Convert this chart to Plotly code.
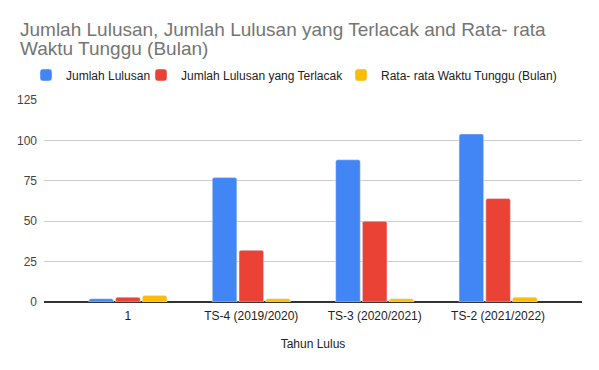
import plotly.graph_objects as go

categories = ["1", "TS-4 (2019/2020)", "TS-3 (2020/2021)", "TS-2 (2021/2022)"]
jumlah_lulusan = [2, 77, 88, 104]
jumlah_terlacak = [3, 32, 50, 64]
rata_waktu = [4, 2, 2, 3]
y_ticks = [0, 25, 50, 75, 100, 125]
title_lines = ["Jumlah Lulusan, Jumlah Lulusan yang Terlacak and Rata- rata", "Waktu Tunggu (Bulan)"]

font_fam = "Liberation Sans, Arial, sans-serif"
W, H = 599, 370

fig = go.Figure()
fig.add_trace(go.Bar(name="Jumlah Lulusan", x=categories, y=jumlah_lulusan,
                     marker_color="#4285F4", legend="legend"))
fig.add_trace(go.Bar(name="Jumlah Lulusan yang Terlacak", x=categories, y=jumlah_terlacak,
                     marker_color="#EA4335", legend="legend2"))
fig.add_trace(go.Bar(name="Rata- rata Waktu Tunggu (Bulan)", x=categories, y=rata_waktu,
                     marker_color="#FBBC04", legend="legend3"))

for line, yc in zip(title_lines, [29, 48]):
    fig.add_annotation(
        text=line, xref="paper", yref="paper",
        x=(18 - 44) / 538, y=1 + (100 - yc) / 202,
        xanchor="left", yanchor="middle", align="left", showarrow=False,
        font=dict(family=font_fam, size=19, color="#757575"),
    )

def leg(xpx):
    return dict(
        orientation="h", x=xpx / W, xanchor="left", xref="container",
        y=1 - 75 / H, yref="container", yanchor="middle",
        font=dict(family=font_fam, size=12, color="#222"),
        itemwidth=30, bgcolor="rgba(0,0,0,0)",
    )

fig.update_layout(
    width=W, height=H,
    margin=dict(l=44, r=17, t=100, b=68, autoexpand=False),
    paper_bgcolor="white", plot_bgcolor="white",
    font=dict(family=font_fam, size=12, color="#222"),
    barmode="group", bargap=0.35, bargroupgap=0.08, barcornerradius=2,
    showlegend=True,
    legend=leg(26), legend2=leg(141), legend3=leg(341),
    xaxis=dict(
        range=[-0.68, 3.68],
        showgrid=False, showline=False, ticks="",
        tickfont=dict(family=font_fam, size=12, color="#222"),
        ticklabelstandoff=5,
        title=dict(text="Tahun Lulus", font=dict(family=font_fam, size=12, color="#222"), standoff=17),
    ),
    yaxis=dict(
        range=[0, 125], tickvals=y_ticks,
        showgrid=True, gridcolor="#CCCCCC", gridwidth=1,
        zeroline=True, zerolinecolor="#333333", zerolinewidth=1.5,
        showline=False, ticks="",
        tickfont=dict(family=font_fam, size=12, color="#444"),
        ticklabelstandoff=6,
    ),
)

fig.write_html("out.html", config={"displayModeBar": False},
               post_script="document.body.style.margin='0';")
